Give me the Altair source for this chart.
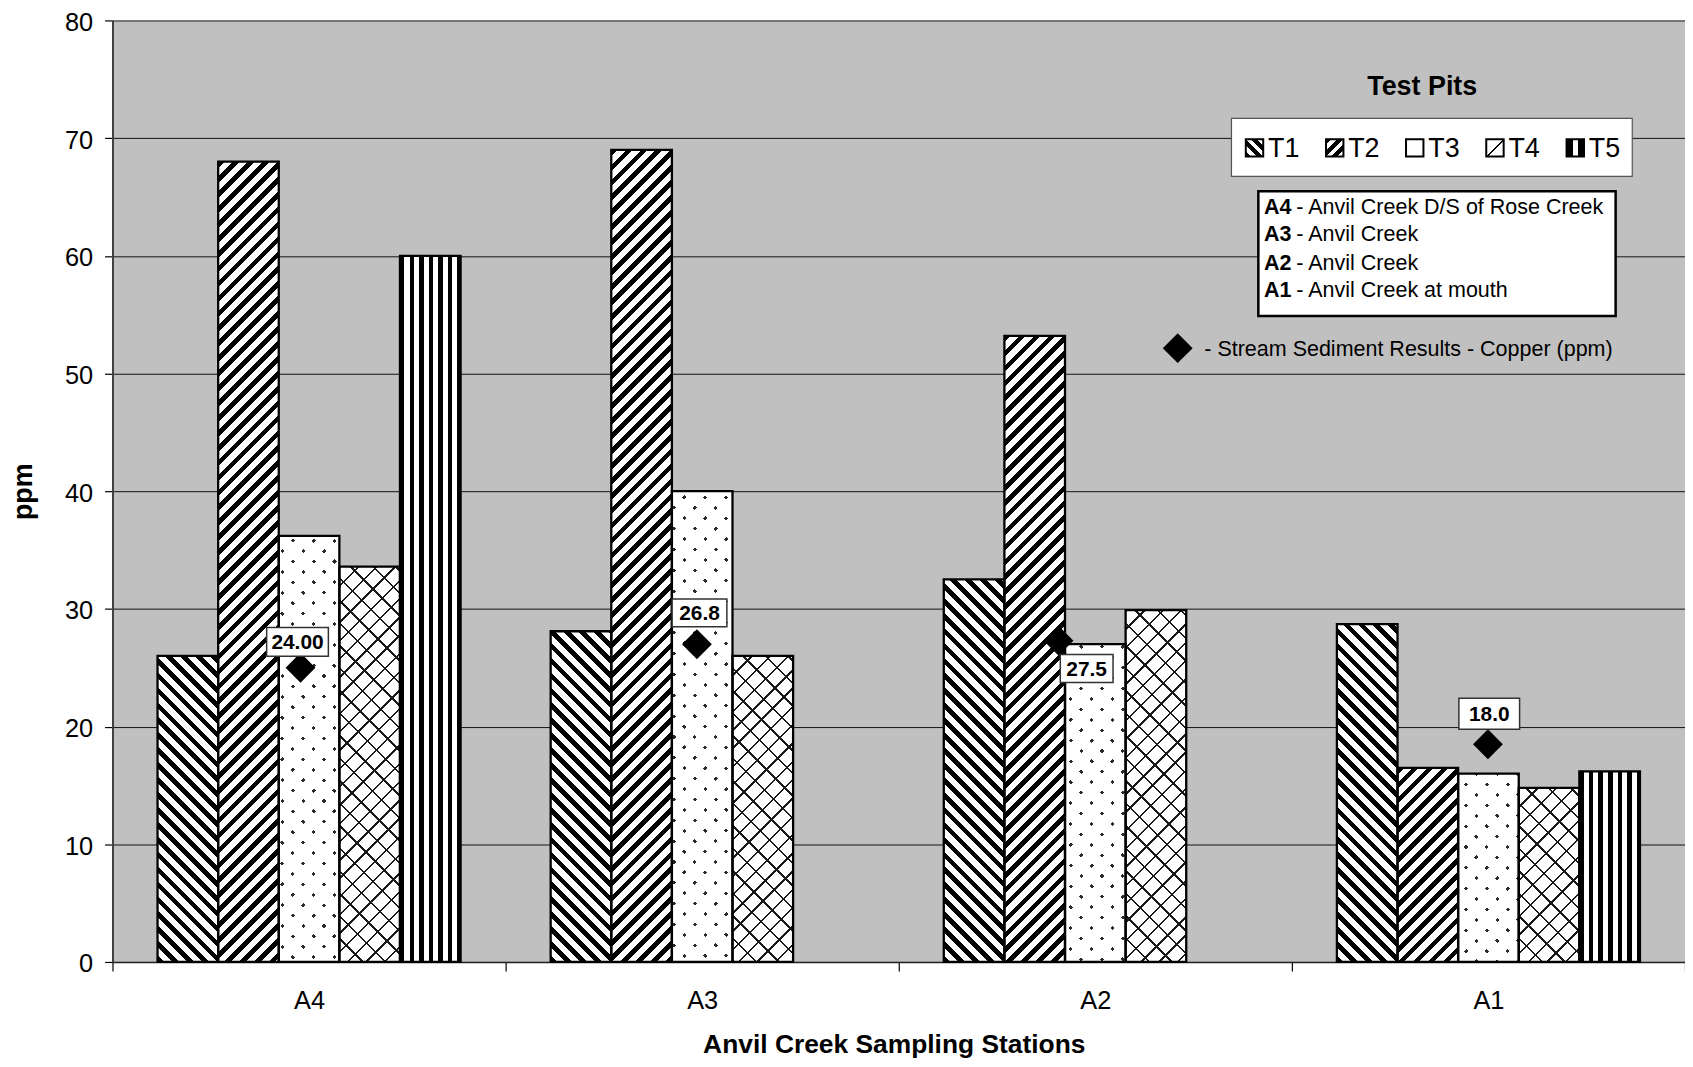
import math
import altair as alt
import pandas as pd

# ---------------- data ----------------
stations = ["A4", "A3", "A2", "A1"]
pits = ["T1", "T2", "T3", "T4", "T5"]
t1_ppm = [26.0, 28.1, 32.5, 28.7]
t2_ppm = [68.0, 69.0, 53.2, 16.5]
t3_ppm = [36.2, 40.0, 27.0, 16.0]
t4_ppm = [33.6, 26.0, 29.9, 14.8]
t5_ppm = [60.0, None, None, 16.2]
copper_ppm = [25.0, 27.0, 27.3, 18.5]
copper_text = ["24.00", "26.8", "27.5", "18.0"]
station_desc = ["Anvil Creek D/S of Rose Creek", "Anvil Creek",
                "Anvil Creek", "Anvil Creek at mouth"]
legend_title = "Test Pits"
marker_desc = "- Stream Sediment Results - Copper (ppm)"
x_title = "Anvil Creek Sampling Stations"
y_title = "ppm"
y_ticks = [0, 10, 20, 30, 40, 50, 60, 70, 80]

series = [t1_ppm, t2_ppm, t3_ppm, t4_ppm, t5_ppm]
rows = []
for si, s in enumerate(stations):
    for pi, p in enumerate(pits):
        v = series[pi][si]
        if v is not None:
            rows.append({"station": s, "pit": p, "ppm": v, "idx": len(rows)})
df = pd.DataFrame(rows)
cu = pd.DataFrame({"station": stations, "ppm": copper_ppm, "label": copper_text})
one = pd.DataFrame({"k": [0]})

# ---------------- geometry / style ----------------
FONT = "Liberation Sans"
PW, PH = 1580, 946
STEP = PW / 4
OUTER = 0.743
BAR_W = STEP / (5 + 2 * OUTER)
PX = PH / 80.0
CLR = "rgba(255,255,255,0)"


def stops(n, frac, on, off):
    out = []
    i = 0
    while i / n < 1:
        a = i / n
        b = min((i + frac) / n, 1.0)
        c = min((i + 1) / n, 1.0)
        for o, col in ((a, on), (b, on), (b, off), (c, off)):
            out.append({"offset": round(o, 5), "color": col})
        i += 1
    return out


def diag(w, h, period, frac, on, off, kind):
    r = w / h
    k = (r + 1) / (r * r + 1)
    n = (w + h) / math.sqrt(2) / period
    if kind == "back":
        c = {"x1": 0, "y1": 1, "x2": k * r, "y2": 1 - k}
    else:
        c = {"x1": 0, "y1": 0, "x2": k * r, "y2": k}
    return {"gradient": "linear", **c, "stops": stops(n, frac, on, off)}


def vert(w, period, frac, on, off):
    return {"gradient": "linear", "x1": 0, "y1": 0, "x2": 1, "y2": 0,
            "stops": stops(w / period, frac, on, off)}


def fills_for(pit, w, h):
    if pit == "T1":
        return [diag(w, h, 10.6, 0.45, "black", "white", "back")]
    if pit == "T2":
        return [diag(w, h, 10.6, 0.45, "black", "white", "fwd")]
    if pit == "T3":
        return ["#2a2a2a",
                diag(w, h, 14.8, 0.80, "white", CLR, "fwd"),
                diag(w, h, 14.8, 0.80, "white", CLR, "back")]
    if pit == "T4":
        return ["white",
                diag(w, h, 13.0, 0.13, "#1a1a1a", CLR, "fwd"),
                diag(w, h, 16.0, 0.11, "#1a1a1a", CLR, "back")]
    return [vert(w, 9.6, 0.47, "black", "white")]


X = alt.X("station:N", sort=stations,
          scale=alt.Scale(domain=stations, paddingInner=0, paddingOuter=0),
          axis=alt.Axis(title=x_title, tickBand="extent", grid=False, labelAngle=0,
                        domainColor="#222222", domainWidth=1.5,
                        tickColor="black", tickSize=9, tickWidth=1.2,
                        labelFont=FONT, labelFontSize=25.5, labelColor="black",
                        labelBaseline="alphabetic", labelPadding=38,
                        titleFont=FONT, titleFontSize=26.5, titleFontWeight="bold",
                        titleColor="black", titleX=785, titleY=91,
                        titleBaseline="alphabetic", titleAlign="center"))
XO = alt.XOffset("pit:N", scale=alt.Scale(domain=pits, paddingInner=0, paddingOuter=OUTER))
Y = alt.Y("ppm:Q", scale=alt.Scale(domain=[0, 80], nice=False, zero=True),
          axis=alt.Axis(title=y_title, values=y_ticks, grid=True,
                        gridColor="#111111", gridWidth=1,
                        domainColor="#404040", domainWidth=2,
                        tickColor="black", tickSize=8, tickWidth=1.2,
                        labelFont=FONT, labelFontSize=25.5, labelColor="black",
                        labelPadding=12, labelOffset=2,
                        titleFont=FONT, titleFontSize=27, titleFontWeight="bold",
                        titleColor="black", titleAngle=270, titleX=-89, titleY=473,
                        titleBaseline="middle", titleAlign="center"))

layers = []
bars = alt.Chart(df).encode(x=X, xOffset=XO, y=Y)
for r in rows:
    h = r["ppm"] * PX
    for f in fills_for(r["pit"], BAR_W, h):
        layers.append(bars.transform_filter(alt.datum.idx == r["idx"])
                      .mark_bar(fill=f, strokeWidth=0))
layers.append(bars.mark_bar(fillOpacity=0, stroke="black", strokeWidth=2.3))

# ---------------- copper markers and labels ----------------
DIAMOND_DX = [-8.6, -5.3, -37.0, -0.5]
BOXES = [(-3.0, -26.0, 62, 29), (2.6, -31.5, 55, 28), (28.3, 28.0, 53, 28), (1.3, -30.6, 61, 31)]
cu_base = alt.Chart(cu).encode(x=X, y=Y)
for j, s in enumerate(stations):
    sel = cu_base.transform_filter(alt.datum.station == s)
    layers.append(sel.mark_point(shape="diamond", filled=True, size=900, color="black",
                                 opacity=1, xOffset=DIAMOND_DX[j]))
    bx, by, bw, bh = BOXES[j]
    path = f"M-1,{-bh / bw:.4f}H1V{bh / bw:.4f}H-1Z"
    layers.append(sel.mark_point(shape=path, size=bw * bw, filled=True, fill="white",
                                 stroke="#333333", strokeWidth=1.5, opacity=1,
                                 xOffset=DIAMOND_DX[j] + bx, yOffset=by))
    layers.append(sel.mark_text(font=FONT, fontSize=21, fontWeight="bold", color="black",
                                align="center", baseline="alphabetic",
                                dx=DIAMOND_DX[j] + bx, dy=by + 7.5)
                  .encode(text="label:N"))

# ---------------- custom legend ----------------
leg = alt.Chart(one)


def rect(x0, x1, y0, y1, **kw):
    return leg.mark_rect(**kw).encode(x=alt.value(x0), x2=alt.value(x1),
                                      y=alt.value(y0), y2=alt.value(y1))


def label(x, y, txt, **kw):
    return leg.mark_text(font=FONT, color="black", baseline="alphabetic", **kw).encode(
        x=alt.value(x), y=alt.value(y), text=alt.value(txt))


layers.append(label(1316, 75, legend_title, fontSize=27, fontWeight="bold", align="center"))
layers.append(rect(1124.3, 1527, 98.3, 156.7, fill="white", stroke="#555555", strokeWidth=1.2))
SW_X = [1138.7, 1219.3, 1299.7, 1380.3, 1461.0]
SW = 17.5
sw_fills = [
    diag(SW, SW, 8.0, 0.5, "black", "white", "back"),
    diag(SW, SW, 8.0, 0.5, "black", "white", "fwd"),
    "white",
    diag(SW, SW, 12.0, 0.12, "black", "white", "fwd"),
    {"gradient": "linear", "x1": 0, "y1": 0, "x2": 1, "y2": 0,
     "stops": [{"offset": 0, "color": "black"}, {"offset": 0.36, "color": "black"},
               {"offset": 0.36, "color": "white"}, {"offset": 0.64, "color": "white"},
               {"offset": 0.64, "color": "black"}, {"offset": 1, "color": "black"}]},
]
for k, p in enumerate(pits):
    layers.append(rect(SW_X[k], SW_X[k] + SW, 119.3, 119.3 + SW,
                       fill=sw_fills[k], stroke="black", strokeWidth=2))
    layers.append(label(SW_X[k] + 22.3, 137.2, p, fontSize=27, align="left"))

layers.append(rect(1151.3, 1510.3, 171.7, 297, fill="white", stroke="black", strokeWidth=2.5))
LINE_Y = [194.3, 222.0, 250.3, 278.3]
for k, s in enumerate(stations):
    layers.append(label(1157, LINE_Y[k], s, fontSize=21.6, fontWeight="bold", align="left"))
    layers.append(label(1189.5, LINE_Y[k], "- " + station_desc[k], fontSize=21.6, align="left"))

layers.append(leg.mark_point(shape="diamond", filled=True, size=900, color="black", opacity=1)
              .encode(x=alt.value(1070.3), y=alt.value(329.3)))
layers.append(label(1097, 337.5, marker_desc, fontSize=21.6, align="left"))

chart = (
    alt.layer(*layers)
    .properties(width=PW, height=PH,
                autosize=alt.AutoSizeParams(type="none"),
                padding={"left": 105, "top": 10, "right": 0, "bottom": 95},
                background="white")
    .configure_view(fill="#c0c0c0", stroke="transparent")
)

chart.save("out.html", embed_options={"renderer": "svg", "actions": False})
